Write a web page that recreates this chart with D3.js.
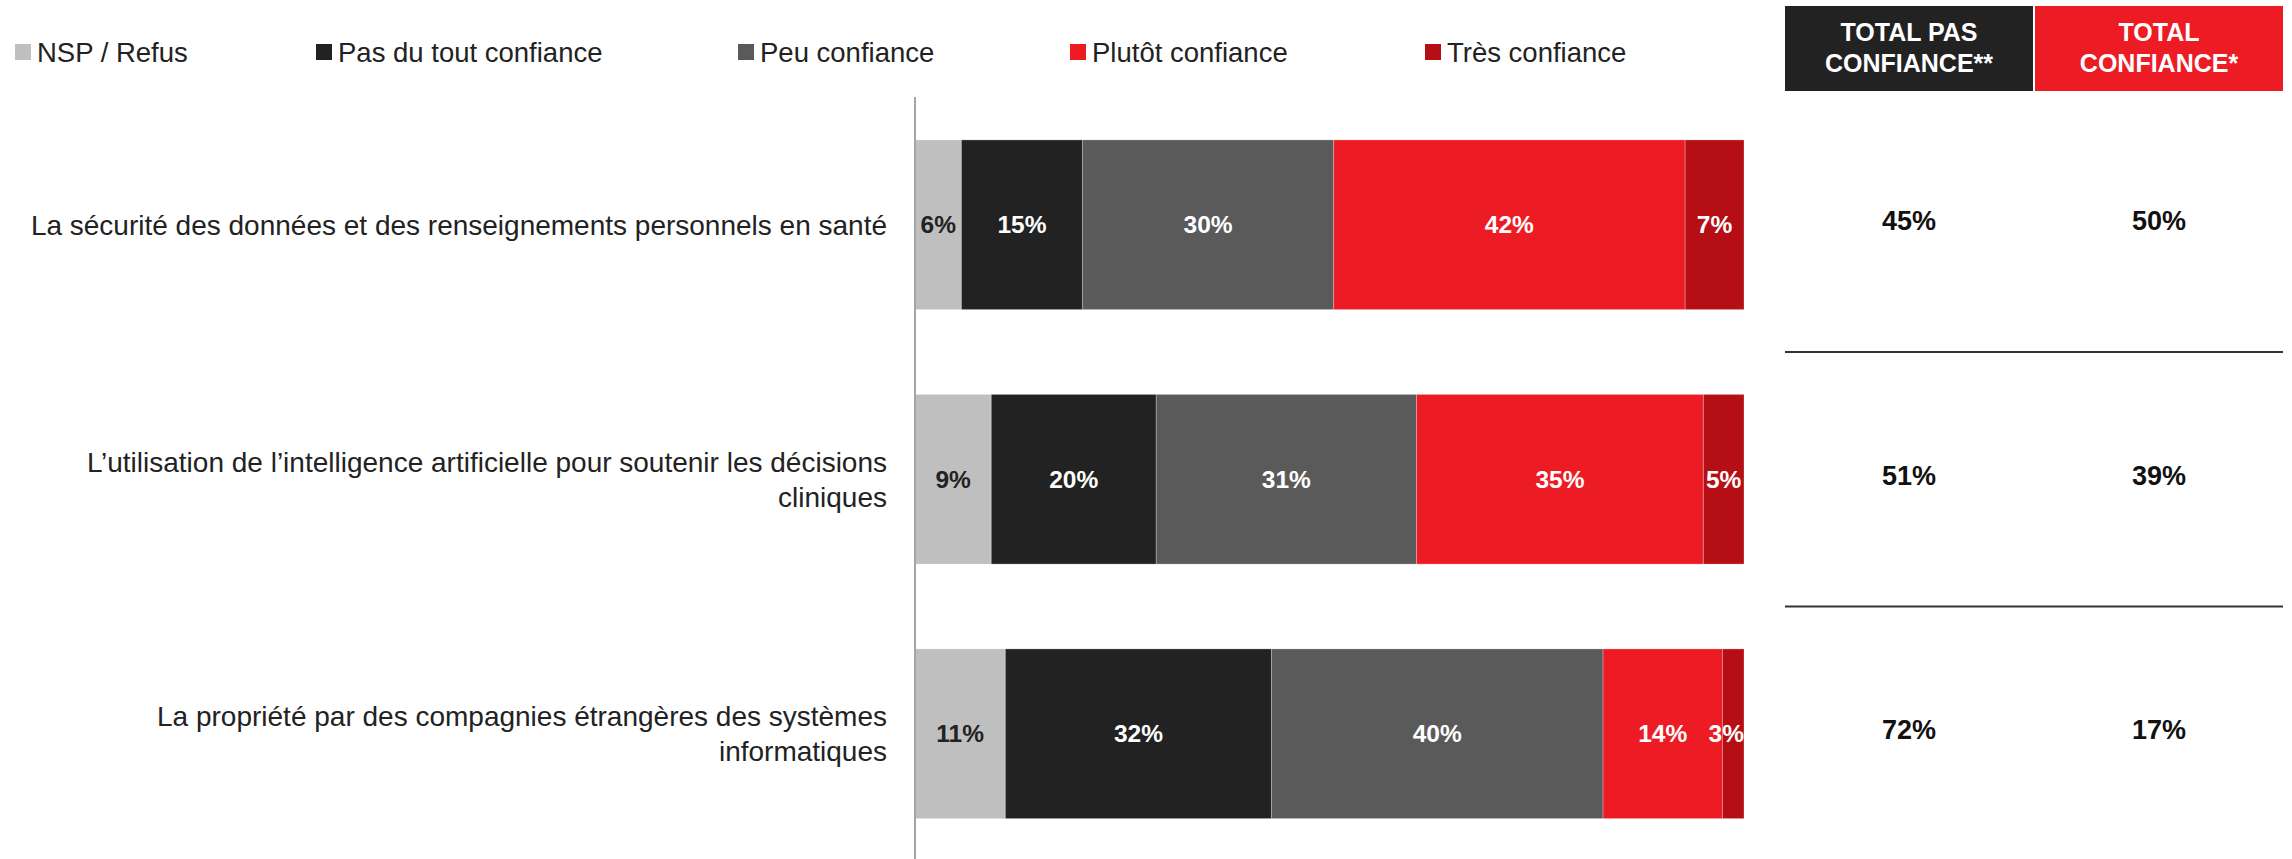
<!DOCTYPE html>
<html><head><meta charset="utf-8">
<script src="https://cdn.jsdelivr.net/npm/d3@7"></script>
<style>
html,body{margin:0;padding:0;background:#fff;}
svg{display:block;}
</style>
</head><body>
<svg id="chart" width="2292" height="859"></svg>
<script>
const categories = [
  ["La sécurité des données et des renseignements personnels en santé"],
  ["L’utilisation de l’intelligence artificielle pour soutenir les décisions", "cliniques"],
  ["La propriété par des compagnies étrangères des systèmes", "informatiques"]
];
const seriesNames = ["NSP / Refus", "Pas du tout confiance", "Peu confiance", "Plutôt confiance", "Très confiance"];
const seriesColors = ["#bfbfbf", "#222222", "#5a5a5a", "#ed1c24", "#b50f15"];
const labelColors = ["#222222", "#ffffff", "#ffffff", "#ffffff", "#ffffff"];
// values (labels are shown rounded)
const nsp = [5.6, 9.2, 10.9];
const pasDuTout = [14.6, 19.9, 32.1];
const peu = [30.3, 31.4, 40.0];
const plutot = [42.4, 34.6, 14.4];
const tres = [7.1, 4.9, 2.6];
const totalPasConfiance = [45, 51, 72];
const totalConfiance = [50, 39, 17];
const totalHeaders = [["TOTAL PAS", "CONFIANCE**"], ["TOTAL", "CONFIANCE*"]];
const totalHeaderColors = ["#222222", "#ed1c24"];

const series = [nsp, pasDuTout, peu, plutot, tres];
const svg = d3.select("#chart");
const FONT = "'Liberation Sans', Arial, sans-serif";
const fmt = d3.format(".0f");

const x = d3.scaleLinear().domain([0, 100]).range([915, 1744]);
const y = d3.scaleBand().domain(d3.range(categories.length)).range([97.5, 861]).paddingInner(1/3).paddingOuter(1/6);

// legend
const legendX = [15, 316, 738, 1070, 1425];
const leg = svg.append("g");
seriesNames.forEach((n, i) => {
  leg.append("rect").attr("x", legendX[i]).attr("y", 44).attr("width", 16).attr("height", 16).attr("fill", seriesColors[i]);
  leg.append("text").attr("x", legendX[i] + 22).attr("y", 52).attr("dy", "0.35em")
    .attr("font-family", FONT).attr("font-size", 27.5).attr("fill", "#222").text(n);
});

// stacked data
const rows = categories.map((c, r) => {
  let acc = 0;
  return series.map((s, k) => { const d = {r, k, v: s[r], x0: acc, x1: acc + s[r]}; acc += s[r]; return d; });
});

const bars = svg.append("g");
rows.forEach(row => {
  bars.selectAll(null).data(row).enter().append("rect")
    .attr("x", d => x(d.x0)).attr("y", d => y(d.r))
    .attr("width", d => x(d.x1) - x(d.x0)).attr("height", y.bandwidth())
    .attr("fill", d => seriesColors[d.k])
    .attr("stroke", "rgba(255,255,255,0.25)").attr("stroke-width", 1);
});
rows.forEach(row => {
  const t = bars.selectAll(null).data(row).enter().append("text")
    .attr("y", d => y(d.r) + y.bandwidth() / 2).attr("dy", "0.35em")
    .attr("text-anchor", "middle")
    .attr("font-family", FONT).attr("font-weight", "bold").attr("font-size", 24.5)
    .attr("fill", d => labelColors[d.k])
    .text(d => fmt(d.v) + "%");
  t.each(function(d) {
    const w = this.getComputedTextLength();
    const cx = Math.min((x(d.x0) + x(d.x1)) / 2, x(100) - w / 2);
    d3.select(this).attr("x", cx);
  });
});

// axis line
const yAxis = d3.axisLeft(y).tickSize(0).tickFormat("");
svg.append("g").attr("transform", `translate(${x(0)},0)`).call(yAxis)
  .call(g => g.select(".domain").attr("d", `M0,97V859`).attr("stroke", "#a6a6a6").attr("stroke-width", 2));

// category labels
categories.forEach((lines, r) => {
  const cy = y(r) + y.bandwidth() / 2;
  const lh = 35;
  const t = svg.append("text").attr("font-family", FONT).attr("font-size", 28).attr("fill", "#222")
    .attr("text-anchor", "end");
  lines.forEach((ln, i) => {
    t.append("tspan").attr("x", 887).attr("y", cy + (i - (lines.length - 1) / 2) * lh).attr("dy", "0.35em").text(ln);
  });
});

// totals table
const colX = d3.scaleBand().domain([0, 1]).range([1785, 2283]).paddingInner(0.008);
totalHeaders.forEach((h, i) => {
  svg.append("rect").attr("x", colX(i)).attr("y", 6).attr("width", colX.bandwidth()).attr("height", 85).attr("fill", totalHeaderColors[i]);
  h.forEach((ln, j) => {
    svg.append("text").attr("x", colX(i) + colX.bandwidth() / 2).attr("y", 32 + j * 31).attr("dy", "0.35em")
      .attr("text-anchor", "middle").attr("font-family", FONT).attr("font-weight", "bold").attr("font-size", 25)
      .attr("fill", "#fff").text(ln);
  });
});
[totalPasConfiance, totalConfiance].forEach((arr, i) => {
  arr.forEach((v, r) => {
    svg.append("text").attr("x", colX(i) + colX.bandwidth() / 2).attr("y", y(r) + y.bandwidth() / 2 - 4).attr("dy", "0.35em")
      .attr("text-anchor", "middle").attr("font-family", FONT).attr("font-weight", "bold").attr("font-size", 27)
      .attr("fill", "#111").text(v + "%");
  });
});
// separators
[0, 1].forEach(r => {
  const sy = (y(r) + y.bandwidth() + y(r + 1)) / 2;
  svg.append("line").attr("x1", 1785).attr("x2", 2283).attr("y1", sy).attr("y2", sy)
    .attr("stroke", "#333").attr("stroke-width", 2);
});
</script>
</body></html>
